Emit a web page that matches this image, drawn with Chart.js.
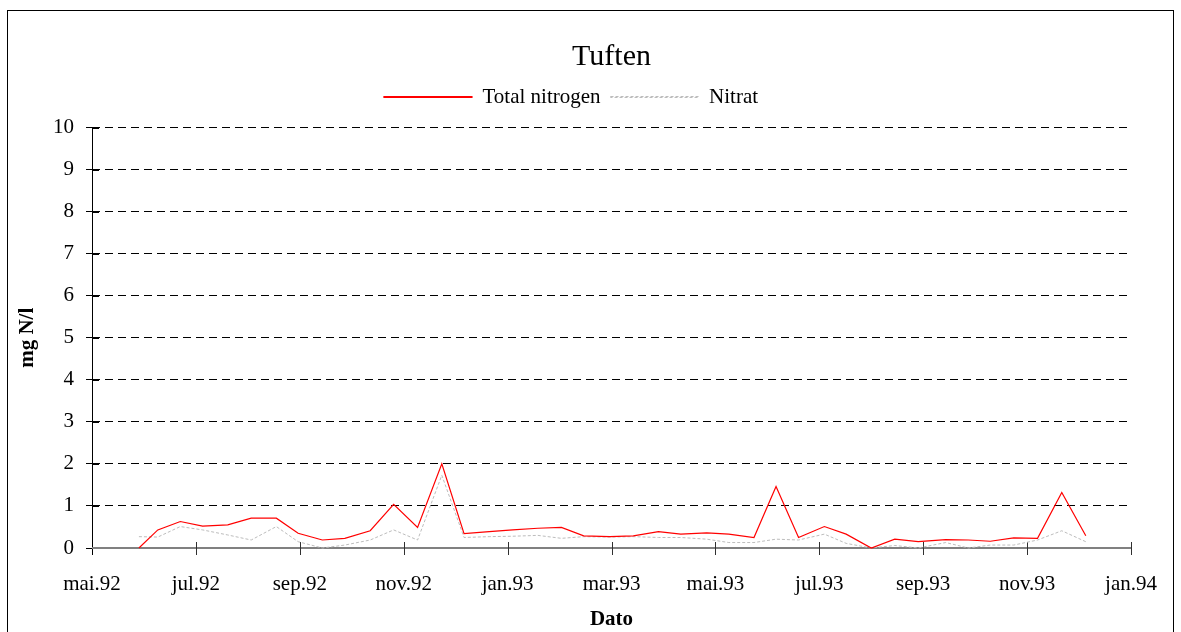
<!DOCTYPE html>
<html>
<head>
<meta charset="utf-8">
<script src="https://cdn.jsdelivr.net/npm/chart.js@4/dist/chart.umd.min.js"></script>
<style>
    html, body { margin: 0; padding: 0; background: #fff; }
    #wrap { width: 1181px; height: 632px; }
</style>
</head>
<body>
<div id="wrap"><canvas id="chart" width="1181" height="632"></canvas></div>
<script>
// sample dates (roughly every two weeks)
const sampleDates = [
    "1992-05-29", "1992-06-09", "1992-06-22", "1992-07-05", "1992-07-20",
    "1992-08-03", "1992-08-18", "1992-08-31", "1992-09-14", "1992-09-27",
    "1992-10-12", "1992-10-26", "1992-11-09", "1992-11-23", "1992-12-06",
    "1992-12-21", "1993-01-04", "1993-01-19", "1993-02-02", "1993-02-14",
    "1993-02-28", "1993-03-14", "1993-03-29", "1993-04-11", "1993-04-26",
    "1993-05-09", "1993-05-24", "1993-06-06", "1993-06-19", "1993-07-04",
    "1993-07-17", "1993-08-01", "1993-08-15", "1993-08-29", "1993-09-14",
    "1993-09-27", "1993-10-10", "1993-10-24", "1993-11-07", "1993-11-21",
    "1993-12-05"
];

const totalNitrogen = [
    0.00, 0.43, 0.63, 0.52, 0.55, 0.71, 0.71, 0.35, 0.19, 0.23,
    0.41, 1.04, 0.49, 2.00, 0.34, 0.39, 0.43, 0.47, 0.49, 0.29,
    0.27, 0.29, 0.39, 0.33, 0.36, 0.33, 0.25, 1.46, 0.25, 0.51,
    0.33, 0.00, 0.21, 0.15, 0.20, 0.19, 0.16, 0.24, 0.23, 1.32,
    0.29
];

const nitrat = [
    0.27, 0.26, 0.51, 0.43, 0.31, 0.19, 0.51, 0.15, 0.00, 0.07,
    0.19, 0.43, 0.19, 1.73, 0.25, 0.27, 0.28, 0.30, 0.23, 0.27,
    0.26, 0.27, 0.25, 0.25, 0.21, 0.13, 0.13, 0.21, 0.19, 0.33,
    0.11, 0.00, 0.06, 0.00, 0.13, 0.00, 0.07, 0.07, 0.19, 0.41,
    0.15
];

const tickLabels = ["mai.92", "jul.92", "sep.92", "nov.92", "jan.93", "mar.93",
                    "mai.93", "jul.93", "sep.93", "nov.93", "jan.94"];

const FONT = "'Liberation Serif', 'Times New Roman', serif";

// months since 1 May 1992
function toMonth(s) {
    let [y, m, d] = s.split("-").map(Number);
    let dim = new Date(y, m, 0).getDate();
    return (y - 1992) * 12 + (m - 5) + (d - 1) / dim;
}

function points(values) {
    return values.map((v, i) => ({ x: toMonth(sampleDates[i]), y: v }));
}

// a little empty room between legend and plot
const spacer = {
    id: "spacer",
    beforeInit(chart) {
        Chart.layouts.addBox(chart, {
            position: "top",
            weight: 500,
            fullSize: true,
            options: {},
            isHorizontal() { return true; },
            update(maxWidth) { this.width = maxWidth; this.height = 10; },
            draw() {}
        });
    }
};

// frame, axis lines and tick marks crossing the axes
const frame = {
    id: "frame",
    beforeDraw(chart) {
        let ctx = chart.ctx;
        ctx.save();
        ctx.fillStyle = "#fff";
        ctx.fillRect(0, 0, chart.width, chart.height);
        ctx.strokeStyle = "#000";
        ctx.lineWidth = 1;
        ctx.strokeRect(7.5, 10.5, 1166, 700);
        ctx.restore();
    },
    beforeDatasetsDraw(chart) {
        let ctx = chart.ctx;
        let a = chart.chartArea;
        let xs = chart.scales.x;
        let ys = chart.scales.y;
        ctx.save();
        // y axis
        ctx.strokeStyle = "#000";
        ctx.lineWidth = 1;
        ctx.beginPath();
        ctx.moveTo(a.left + 0.5, a.top);
        ctx.lineTo(a.left + 0.5, a.bottom + 7);
        ctx.stroke();
        // inner half of the y ticks
        ys.ticks.forEach(t => {
            let py = Math.round(ys.getPixelForValue(t.value)) + 0.5;
            ctx.beginPath();
            ctx.moveTo(a.left, py);
            ctx.lineTo(a.left + 7, py);
            ctx.stroke();
        });
        // x axis
        ctx.strokeStyle = "#808080";
        ctx.lineWidth = 2;
        ctx.beginPath();
        ctx.moveTo(a.left, a.bottom);
        ctx.lineTo(a.right, a.bottom);
        ctx.stroke();
        // x ticks crossing the axis
        ctx.strokeStyle = "#303030";
        ctx.lineWidth = 1;
        xs.ticks.forEach(t => {
            if (t.value === 0) return;
            let px = Math.round(xs.getPixelForValue(t.value)) + 0.5;
            ctx.beginPath();
            ctx.moveTo(px, a.bottom - 6);
            ctx.lineTo(px, a.bottom + 7);
            ctx.stroke();
        });
        ctx.restore();
    }
};

new Chart(document.getElementById("chart"), {
    type: "line",
    data: {
        datasets: [
            {
                label: "Total nitrogen",
                data: points(totalNitrogen),
                borderColor: "#ff0000",
                backgroundColor: "#ff0000",
                borderWidth: 1.2,
                pointRadius: 0,
                tension: 0,
                clip: false
            },
            {
                label: "Nitrat",
                data: points(nitrat),
                borderColor: "#bdbdbd",
                backgroundColor: "rgba(0,0,0,0)",
                borderWidth: 1,
                borderDash: [3, 2],
                pointRadius: 0,
                tension: 0,
                clip: false
            }
        ]
    },
    options: {
        responsive: false,
        animation: false,
        layout: { padding: { top: 10, left: 10, right: 49, bottom: 0 } },
        plugins: {
            title: {
                display: true,
                fullSize: false,
                text: "Tuften",
                color: "#000",
                font: { family: FONT, size: 30, weight: "normal" },
                padding: { top: 29, bottom: 1.5 }
            },
            legend: {
                display: true,
                labels: {
                    color: "#000",
                    font: { family: FONT, size: 21 },
                    boxWidth: 88,
                    boxHeight: 1,
                    padding: 10
                }
            },
            tooltip: { enabled: false }
        },
        scales: {
            x: {
                type: "linear",
                min: 0,
                max: 20,
                afterFit(scale) { scale.height = 84; },
                grid: { display: false, drawTicks: false },
                border: { display: false },
                ticks: {
                    stepSize: 2,
                    autoSkip: false,
                    maxRotation: 0,
                    padding: 24,
                    color: "#000",
                    font: { family: FONT, size: 21 },
                    callback: v => tickLabels[v / 2]
                },
                title: {
                    display: true,
                    text: "Dato",
                    color: "#000",
                    font: { family: FONT, size: 21, weight: "bold" },
                    padding: { top: 0, bottom: 0 }
                }
            },
            y: {
                min: 0,
                max: 10,
                afterFit(scale) { scale.width = 82; },
                grid: {
                    color: c => c.tick && c.tick.value === 0 ? "rgba(0,0,0,0)" : "#000",
                    tickColor: "#000",
                    tickLength: 6,
                    lineWidth: 1
                },
                border: { display: false, dash: [8, 5] },
                ticks: {
                    stepSize: 1,
                    padding: 12,
                    color: "#000",
                    font: { family: FONT, size: 21 }
                },
                title: {
                    display: true,
                    text: "mg N/l",
                    color: "#000",
                    font: { family: FONT, size: 21, weight: "bold" },
                    padding: { top: 5, bottom: 0 }
                }
            }
        }
    },
    plugins: [spacer, frame]
});
</script>
</body>
</html>
